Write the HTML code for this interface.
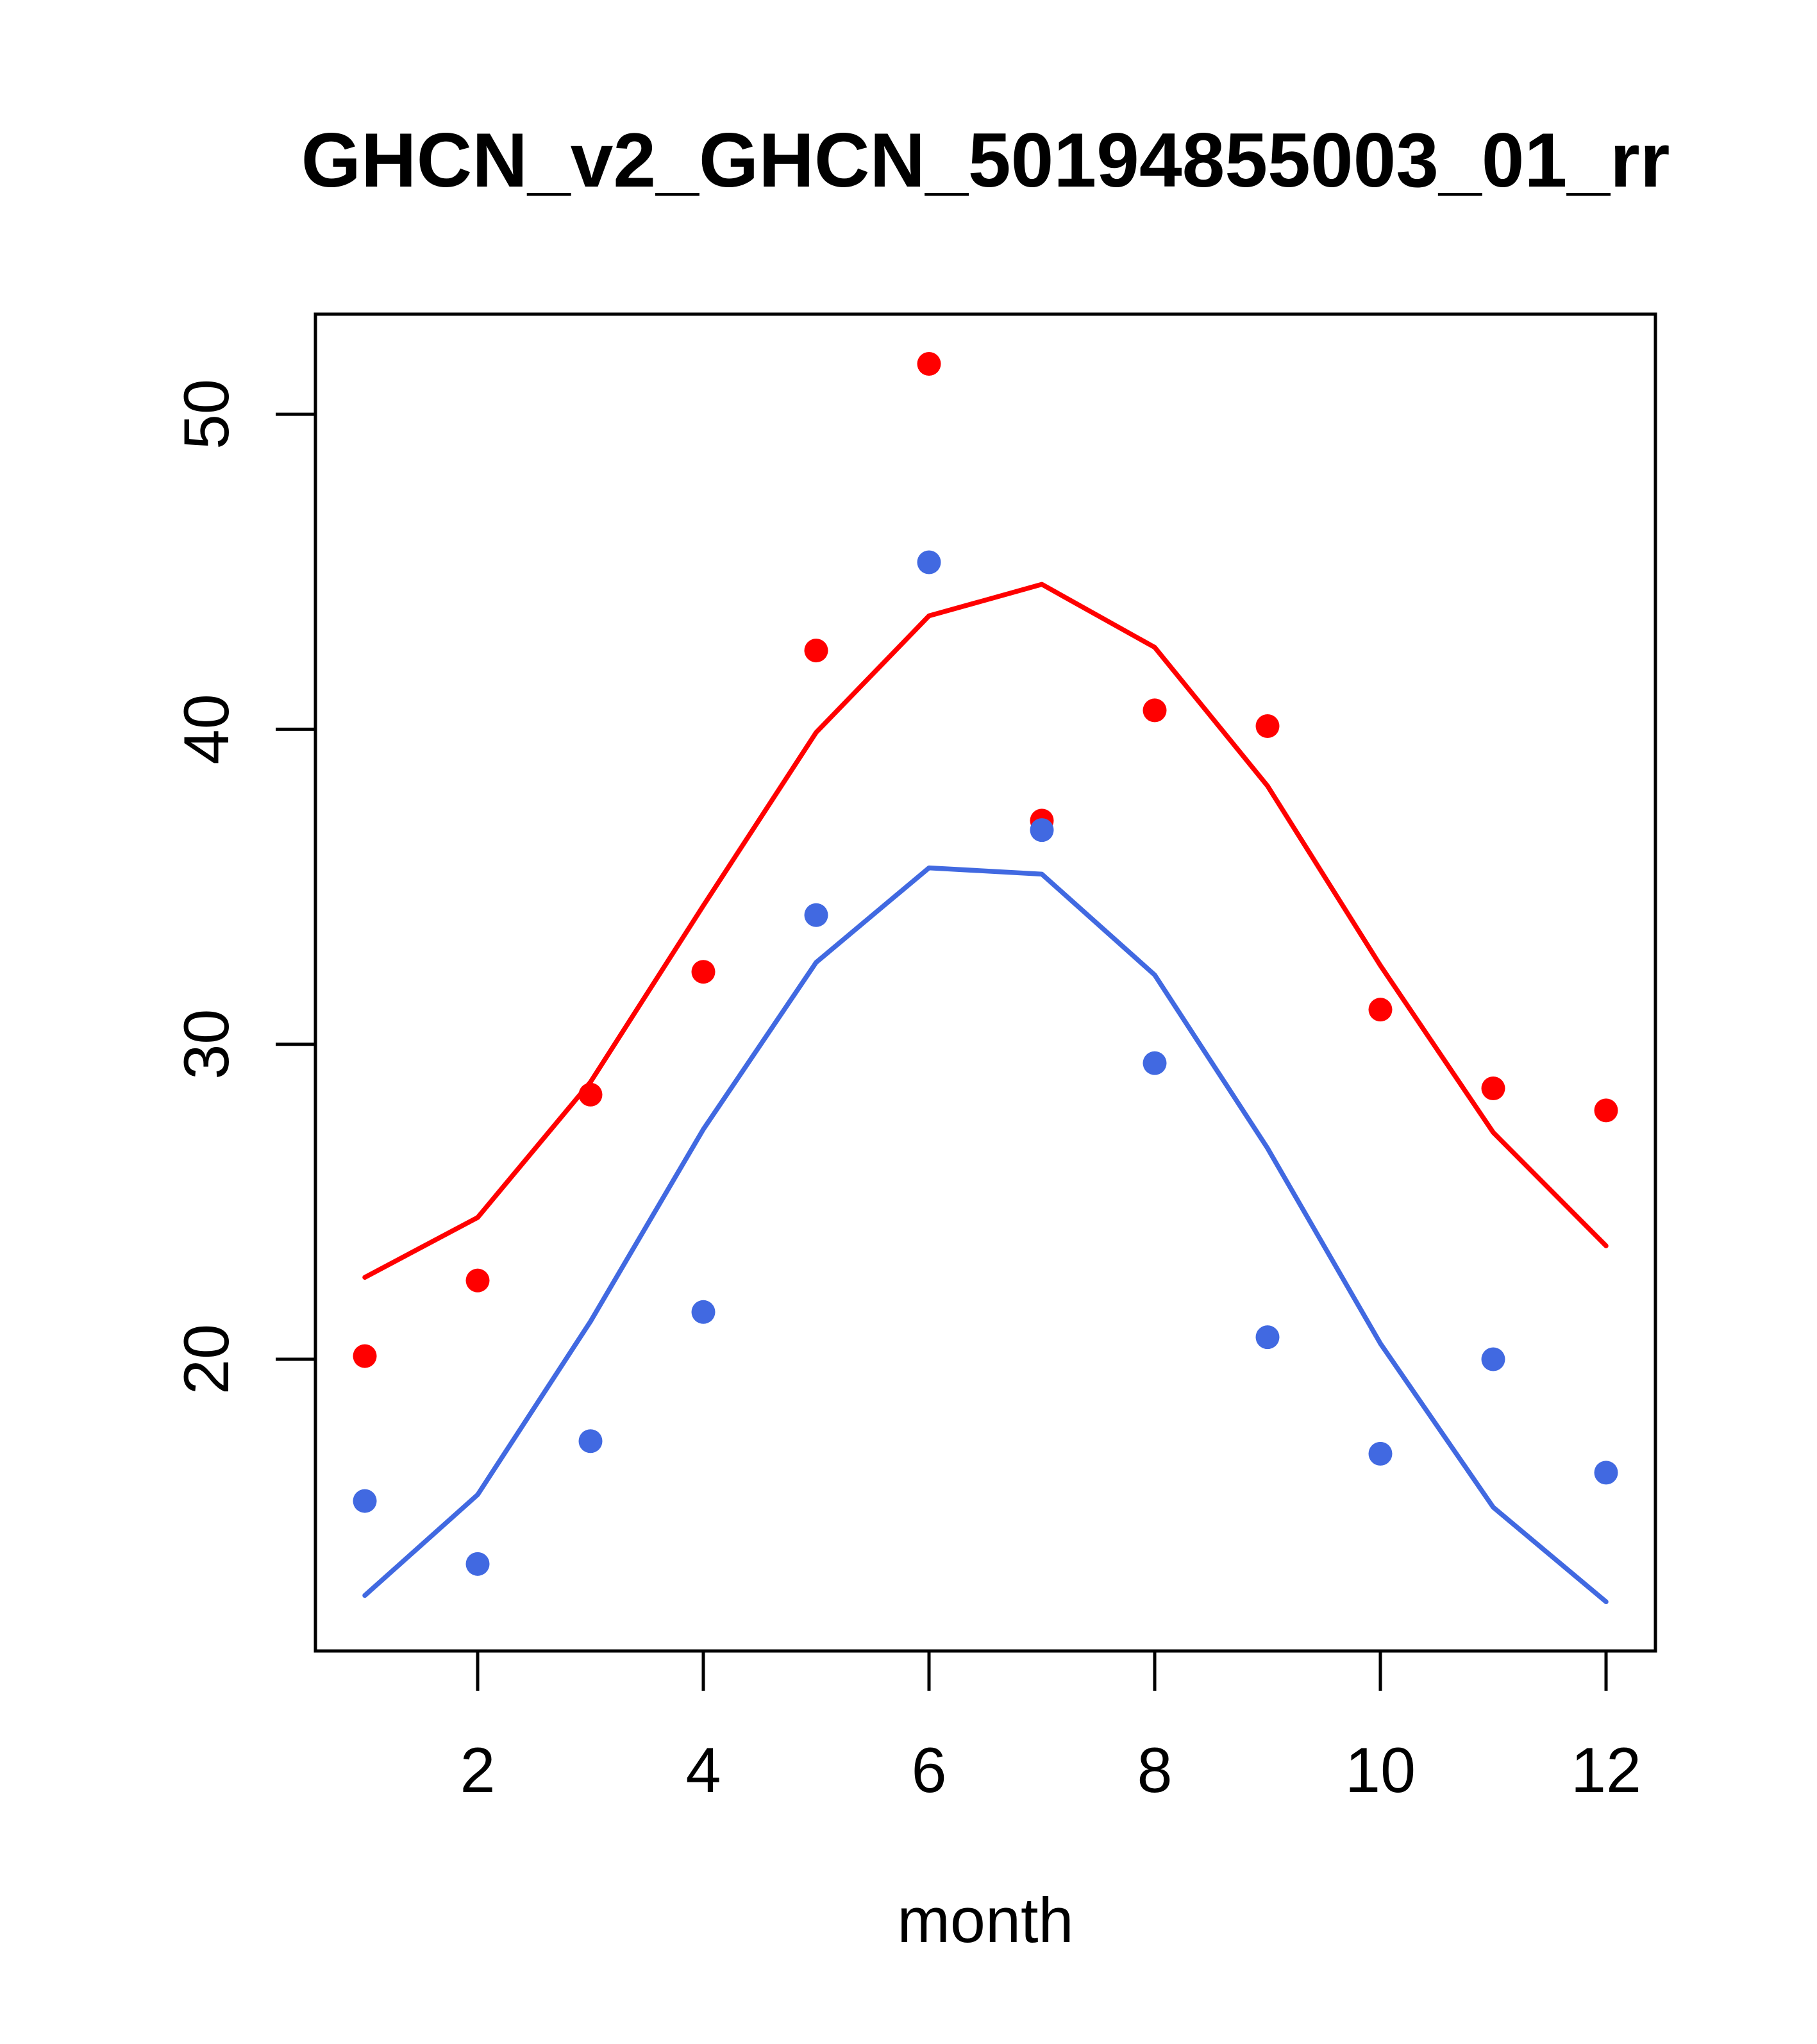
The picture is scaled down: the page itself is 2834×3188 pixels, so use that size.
<!DOCTYPE html>
<html><head><meta charset="utf-8"><style>
html,body{margin:0;padding:0;background:#fff;}
svg{display:block;font-family:"Liberation Sans",sans-serif;}
</style></head><body>
<svg id="chart" width="2834" height="3188" viewBox="0 0 2834 3188" xmlns="http://www.w3.org/2000/svg">
<rect width="2834" height="3188" fill="#fff"/>
<text x="1537" y="291" font-size="120" font-weight="bold" text-anchor="middle">GHCN_v2_GHCN_50194855003_01_rr</text>
<text x="1537" y="3029" font-size="99" text-anchor="middle">month</text>
<rect x="492" y="490" width="2090" height="2085" fill="none" stroke="#000" stroke-width="5"/>
<g id="axes"></g>
<g id="marks"></g>
</svg>
<script>
const months=[1,2,3,4,5,6,7,8,9,10,11,12];
const redPoints=[20.1,22.5,28.4,32.3,42.5,51.6,37.1,40.6,40.1,31.1,28.6,27.9];
const redLine=[22.6,24.5,28.8,34.4,39.9,43.6,44.6,42.6,38.2,32.5,27.2,23.6];
const bluePoints=[15.5,13.5,17.4,21.5,34.1,45.3,36.8,29.4,20.7,17.0,20.0,16.4];
const blueLine=[12.5,15.7,21.2,27.3,32.6,35.6,35.4,32.2,26.7,20.5,15.3,12.3];
const xTicks=[2,4,6,8,10,12];
const yTicks=[20,30,40,50];
const NS="http://www.w3.org/2000/svg";
function xs(m){return 569+(m-1)*176;}
function ys(v){return 2120-(v-20)*49.13;}
const axes=document.getElementById('axes');
const marks=document.getElementById('marks');
function mk(tag,attrs,parent){const e=document.createElementNS(NS,tag);for(const k in attrs)e.setAttribute(k,attrs[k]);parent.appendChild(e);return e;}
xTicks.forEach(t=>{
  const l=mk('line',{x1:xs(t),x2:xs(t),y1:2575,y2:2637,stroke:'#000','stroke-width':5},axes);
  
  
  const tx=mk('text',{x:xs(t),y:2795,'font-size':99,'text-anchor':'middle'},axes);
  tx.textContent=t;
  
  
});
yTicks.forEach(t=>{
  const l=mk('line',{x1:430,x2:492,y1:ys(t),y2:ys(t),stroke:'#000','stroke-width':5},axes);
  
  
  const tx=mk('text',{x:0,y:0,'font-size':99,'text-anchor':'middle',transform:`translate(356,${ys(t)}) rotate(-90)`},axes);
  tx.textContent=t;
  
  
});
function line(vals,color,name){
  const p=mk('polyline',{points:vals.map((v,i)=>xs(months[i])+','+ys(v)).join(' '),fill:'none',stroke:color,'stroke-width':7.5,'stroke-linecap':'round','stroke-linejoin':'round'},marks);
  
  
}
function pts(vals,color,name){
  vals.forEach((v,i)=>{
    const c=mk('circle',{cx:xs(months[i]),cy:ys(v),r:18.5,fill:color},marks);
    
    
  });
}
line(redLine,'#ff0000','red-line');
line(blueLine,'#4169e1','blue-line');
pts(redPoints,'#ff0000','red-point');
pts(bluePoints,'#4169e1','blue-point');
</script>
</body></html>
